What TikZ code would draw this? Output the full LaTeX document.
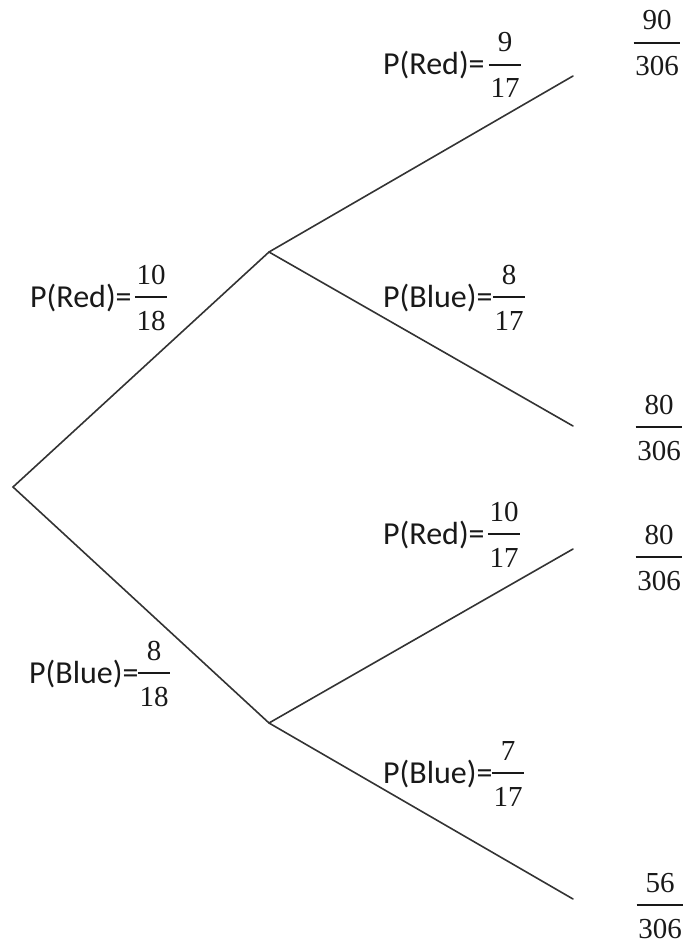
\documentclass[tikz,border=0pt]{standalone}
\usepackage{fontspec}
\setmainfont{Carlito}
\newfontfamily\numfont{Liberation Serif}
\usetikzlibrary{calc}
\tikzset{
  branch/.style={draw=black!80, line width=1.6pt, line cap=round},
  plabel/.style={inner sep=0pt, anchor=base west, text=black!90, font=\fontsize{32}{38}\selectfont},
  digit/.style={inner xsep=1.5pt, inner ysep=0pt, anchor=base, text=black!90, font=\numfont\fontsize{29}{34}\selectfont},
  fracbar/.style={draw=black!90, line width=1.5pt},
}
\newcommand{\probfrac}[5]{%
  \coordinate (#1) at (#2,#3);
  \node[digit] (#1-n) at ($(#1)+(0,-13)$) {#4};
  \node[digit] (#1-d) at ($(#1)+(0,33)$) {#5};
  \draw[fracbar] (#1-d.west |- #1) -- (#1-d.east |- #1);
}
\begin{document}
\begin{tikzpicture}[x=1pt,y=-1pt]
\useasboundingbox (0,0) rectangle (685,944);
% tree points
\coordinate (root) at (13,487);
\coordinate (u) at (269,252);
\coordinate (l) at (269,723);
\coordinate (e1) at (573,76);
\coordinate (e2) at (573,426);
\coordinate (e3) at (573,549);
\coordinate (e4) at (573,899);
\draw[branch] (e1) -- (u) -- (root) -- (l) -- (e4);
\draw[branch] (u) -- (e2);
\draw[branch] (l) -- (e3);
% branch labels
\node[plabel] (l1) at (30,307) {P(Red)=};
\probfrac{f1}{151}{297}{10}{18}
\node[plabel] (l2) at (29,683) {P(Blue)=};
\probfrac{f2}{154}{673}{8}{18}
\node[plabel] (l3) at (383,75) {P(Red)=};
\probfrac{f3}{505}{65}{9}{17}
\node[plabel] (l4) at (383,307) {P(Blue)=};
\probfrac{f4}{509}{297}{8}{17}
\node[plabel] (l5) at (383,544) {P(Red)=};
\probfrac{f5}{504}{534}{10}{17}
\node[plabel] (l6) at (383,783) {P(Blue)=};
\probfrac{f6}{508}{773}{7}{17}
% results
\probfrac{r1}{657}{43}{90}{306}
\probfrac{r2}{659}{427}{80}{306}
\probfrac{r3}{659}{557}{80}{306}
\probfrac{r4}{660}{905}{56}{306}
\end{tikzpicture}
\end{document}
